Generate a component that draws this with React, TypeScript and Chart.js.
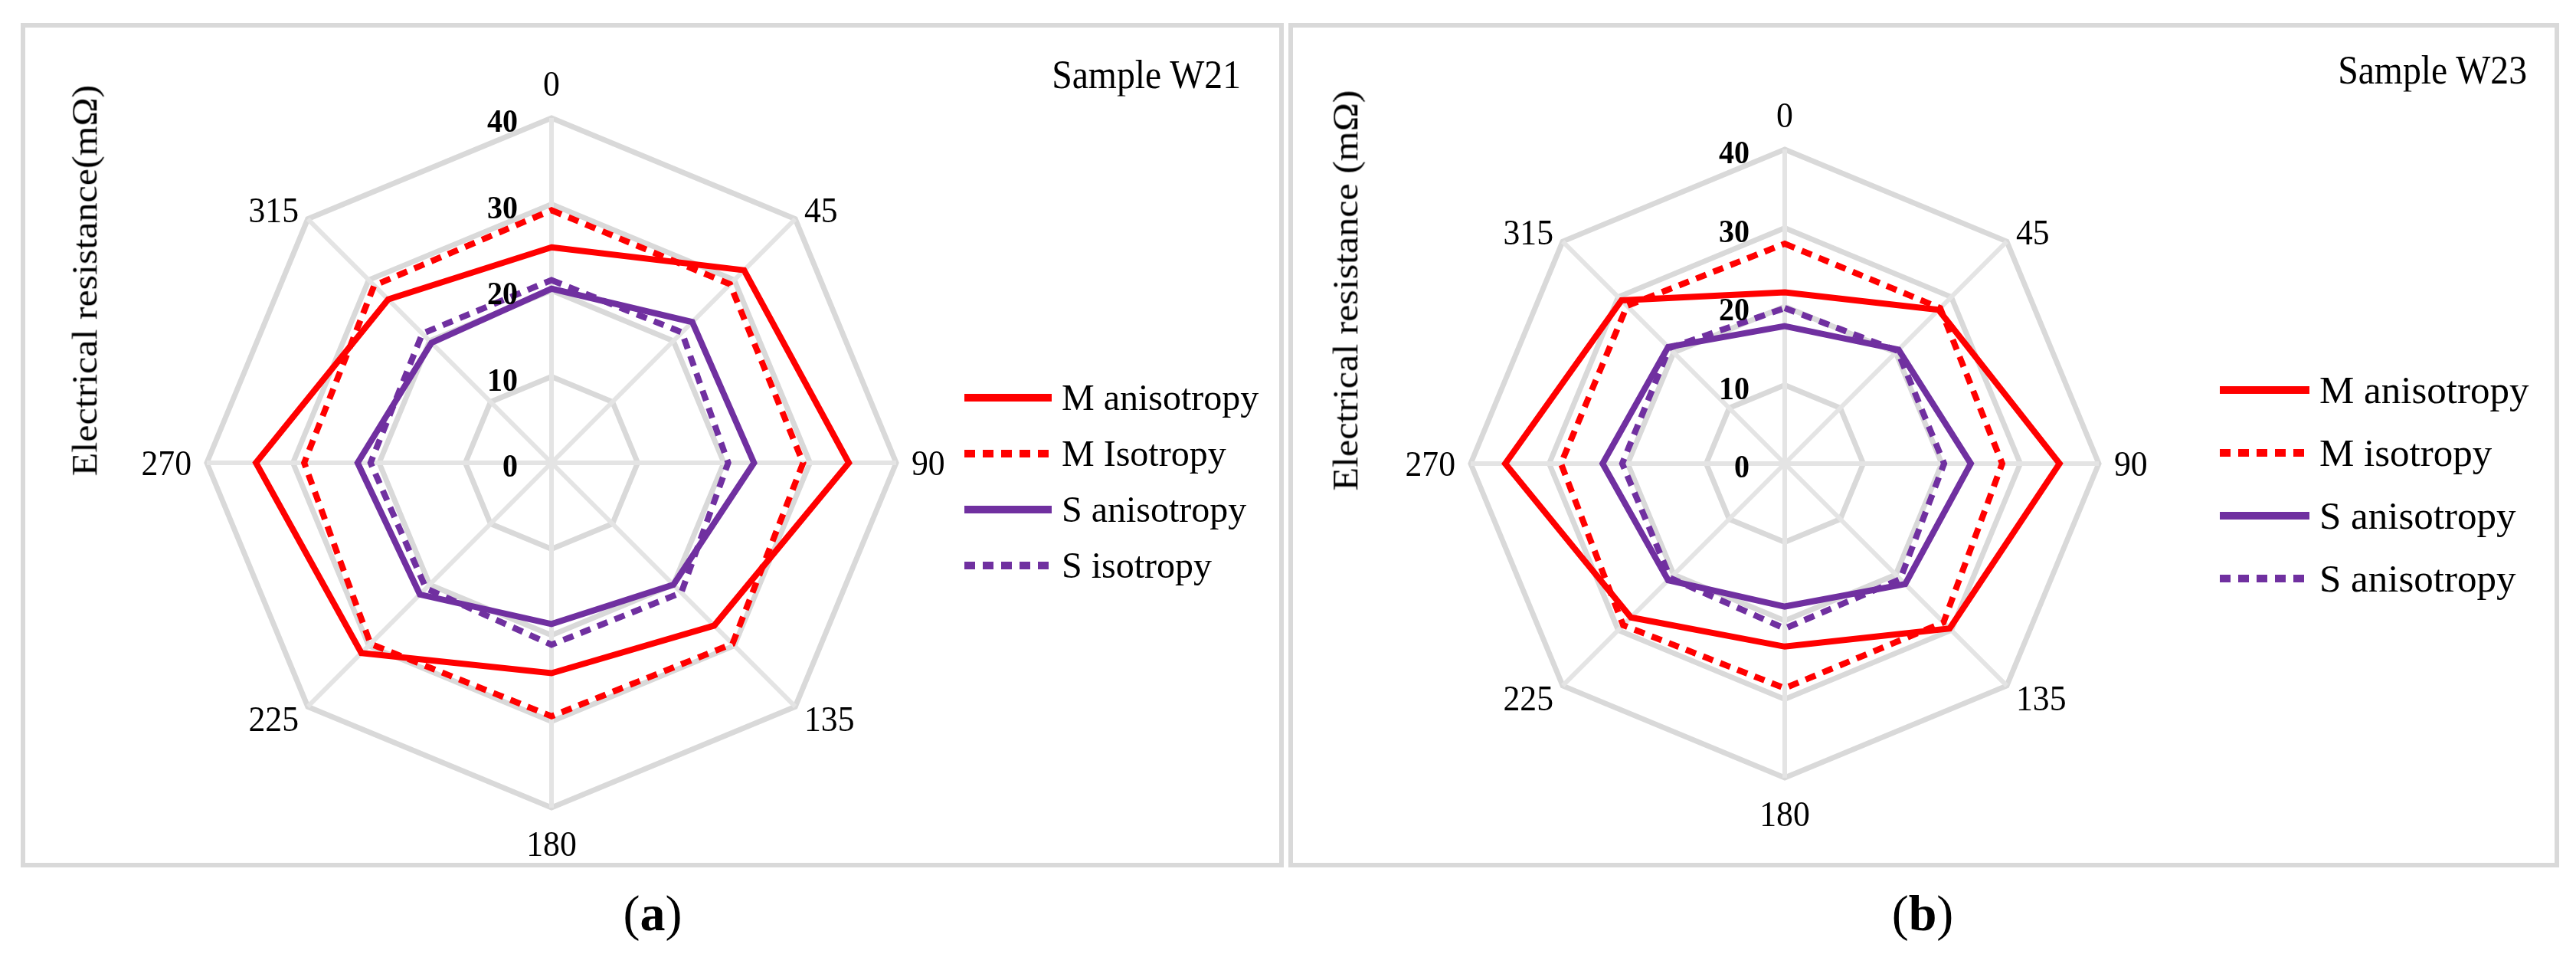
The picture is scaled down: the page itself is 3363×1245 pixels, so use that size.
import React, { useEffect, useRef, useState } from "react";
import { Chart, registerables } from "chart.js";

Chart.register(...registerables);

// ---------- data ----------
const angleLabels = ["0", "45", "90", "135", "180", "225", "270", "315"];
const tickValues = [0, 10, 20, 30, 40];

const w21MAnisotropy = [25.0, 31.6, 34.5, 26.7, 24.4, 31.2, 34.3, 26.8];
const w21MIsotropy = [29.3, 29.3, 29.2, 29.7, 29.4, 29.7, 28.7, 29.1];
const w21SAnisotropy = [20.2, 23.1, 23.5, 20.0, 18.7, 21.6, 22.5, 19.7];
const w21SIsotropy = [21.2, 21.4, 20.5, 21.3, 21.1, 20.6, 21.0, 21.2];

const w23MAnisotropy = [21.8, 27.7, 35.0, 29.7, 23.3, 27.7, 35.6, 29.4];
const w23MIsotropy = [28.0, 28.0, 27.7, 28.6, 28.6, 29.1, 28.5, 28.4];
const w23SAnisotropy = [17.5, 20.5, 23.7, 21.7, 18.2, 21.0, 23.2, 21.0];
const w23SIsotropy = [19.8, 20.3, 20.3, 20.8, 21.0, 20.6, 20.7, 20.8];

const w21Legend = ["M anisotropy", "M Isotropy", "S anisotropy", "S isotropy"];
const w23Legend = ["M anisotropy", "M isotropy", "S anisotropy", "S anisotropy"];

// ---------- styling ----------
const FONT = "'Liberation Serif', 'Times New Roman', serif";
const RED = "#ff0000";
const PURPLE = "#7030a0";
const RING = "#d9d9d9";
const SPOKE = "#e4e4e4";
const DASH = [14, 10];

type TextSpec = {
  text: React.ReactNode;
  x: number;
  y: number;
  align: "left" | "right" | "center";
  size: number;
  bold?: boolean;
  sx?: number;
  rotate?: boolean;
  baselineTop?: boolean;
};

// canvas part: panel border + legend line samples
const decorPlugin = {
  id: "decor",
  beforeDraw(chart: any, _a: any, o: any) {
    const ctx: CanvasRenderingContext2D = chart.ctx;
    ctx.save();
    ctx.strokeStyle = RING;
    ctx.lineWidth = 6;
    const b = o.border;
    ctx.strokeRect(b.x1, b.y1, b.x2 - b.x1, b.y2 - b.y1);
    ctx.restore();
  },
  afterDraw(chart: any, _a: any, o: any) {
    const ctx: CanvasRenderingContext2D = chart.ctx;
    const L = o.legend;
    chart.data.datasets.forEach((ds: any, i: number) => {
      const y = L.y0 + i * L.spacing;
      ctx.save();
      ctx.strokeStyle = ds.borderColor;
      ctx.lineWidth = 10;
      ctx.lineCap = "butt";
      ctx.setLineDash(ds.borderDash || []);
      ctx.beginPath();
      ctx.moveTo(L.x, y);
      ctx.lineTo(L.x + L.lineLen, y);
      ctx.stroke();
      ctx.restore();
    });
  },
};

function makeDatasets(names: string[], a: number[], b: number[], c: number[], d: number[]) {
  const base = { fill: false, pointRadius: 0, borderWidth: 8, tension: 0, borderJoinStyle: "miter", borderCapStyle: "butt", backgroundColor: "rgba(0,0,0,0)" };
  return [
    { ...base, label: names[0], data: a, borderColor: RED },
    { ...base, label: names[1], data: b, borderColor: RED, borderDash: DASH },
    { ...base, label: names[2], data: c, borderColor: PURPLE },
    { ...base, label: names[3], data: d, borderColor: PURPLE, borderDash: DASH },
  ];
}

function makeConfig(datasets: any[], padding: any, decor: any): any {
  return {
    type: "radar",
    data: { labels: angleLabels, datasets },
    plugins: [decorPlugin],
    options: {
      responsive: false,
      animation: false,
      devicePixelRatio: 1,
      layout: { padding },
      plugins: {
        legend: { display: false },
        title: { display: false },
        tooltip: { enabled: false },
        decor,
      },
      scales: {
        r: {
          min: 0,
          max: 40,
          ticks: { display: false, stepSize: 10 },
          pointLabels: { display: false },
          grid: { color: RING, lineWidth: 7, circular: false },
          angleLines: { color: SPOKE, lineWidth: 6 },
        },
      },
    },
  };
}

function collectTexts(chart: any, offsetX: number, cfg: any): TextSpec[] {
  const scale = chart.scales.r;
  const R = scale.drawingArea;
  const out: TextSpec[] = [];
  tickValues.forEach((v) => {
    const d = scale.getDistanceFromCenterForValue(v);
    out.push({ text: String(v), x: offsetX + scale.xCenter - cfg.tickGap, y: scale.yCenter - d + 3, align: "right", size: cfg.tickSize, bold: true, sx: cfg.squeeze });
  });
  chart.data.labels.forEach((lab: string, i: number) => {
    const unit = scale.getPointPosition(i, 1);
    const dx = unit.x - scale.xCenter;
    const dy = unit.y - scale.yCenter;
    let p;
    let align: "left" | "right" | "center" = "center";
    let extra = 0;
    if (Math.abs(dx) < 0.1) {
      p = scale.getPointPosition(i, R + (dy < 0 ? 45 : 47));
    } else if (Math.abs(dy) < 0.1) {
      p = scale.getPointPosition(i, R + 20);
      align = dx > 0 ? "left" : "right";
    } else {
      p = scale.getPointPosition(i, R + 17);
      align = dx > 0 ? "left" : "right";
      extra = dy > 0 ? 4 : 0;
    }
    out.push({ text: lab, x: offsetX + p.x, y: p.y + extra, align, size: cfg.labelSize, sx: cfg.squeeze });
  });
  const t = cfg.title;
  out.push({ text: t.text, x: offsetX + t.x, y: t.y, align: "right", size: t.size, sx: 0.9, baselineTop: true });
  const L = cfg.legend;
  chart.data.datasets.forEach((ds: any, i: number) => {
    out.push({ text: ds.label, x: offsetX + L.x + L.lineLen + L.gap, y: L.y0 + i * L.spacing, align: "left", size: L.size });
  });
  const A = cfg.axisTitle;
  out.push({ text: A.text, x: offsetX + A.x, y: A.y, align: "center", size: A.size, rotate: true });
  const C = cfg.caption;
  out.push({
    text: (
      <>
        (<b>{C.letter}</b>)
      </>
    ),
    x: offsetX + C.x,
    y: C.y,
    align: "center",
    size: C.size,
  });
  return out;
}

function TextItem({ s }: { s: TextSpec }) {
  const sx = s.sx ?? 1;
  const tx = s.align === "right" ? "-100%" : s.align === "center" ? "-50%" : "0";
  const origin = s.align === "right" ? "right center" : s.align === "center" ? "center center" : "left center";
  let transform = `translate(${tx}, -50%) scaleX(${sx})`;
  let top = s.y;
  if (s.baselineTop) {
    top = s.y - 0.3375 * s.size;
  }
  if (s.rotate) transform = `translate(-50%, -50%) rotate(-90deg) scaleY(0.92)`;
  return (
    <div
      style={{
        position: "absolute",
        left: s.x,
        top,
        fontFamily: FONT,
        fontSize: s.size,
        lineHeight: 1,
        fontWeight: s.bold ? "bold" : "normal",
        whiteSpace: "nowrap",
        color: "#000",
        transform,
        transformOrigin: s.rotate ? "center center" : origin,
      }}
    >
      {s.text}
    </div>
  );
}

const leftCfg = {
  tickGap: 44,
  tickSize: 43,
  labelSize: 47,
  squeeze: 0.93,
  border: { x1: 30, y1: 33, x2: 1673, y2: 1129 },
  title: { text: "Sample W21", x: 1620, y: 115, size: 53 },
  legend: { x: 1259, y0: 519, spacing: 73, lineLen: 114, gap: 13, size: 48 },
  axisTitle: { text: "Electrical resistance(mΩ)", x: 111, y: 366, size: 50 },
  caption: { letter: "a", x: 852, y: 1192, size: 66 },
};

const rightCfg = {
  tickGap: 46,
  tickSize: 43,
  labelSize: 47,
  squeeze: 0.93,
  border: { x1: 5, y1: 33, x2: 1658, y2: 1129 },
  title: { text: "Sample W23", x: 1619, y: 109, size: 53 },
  legend: { x: 1218, y0: 509, spacing: 82, lineLen: 117, gap: 13, size: 51 },
  axisTitle: { text: "Electrical resistance (mΩ)", x: 77, y: 379, size: 50 },
  caption: { letter: "b", x: 830, y: 1192, size: 66 },
};

export default function App() {
  const leftRef = useRef<HTMLCanvasElement | null>(null);
  const rightRef = useRef<HTMLCanvasElement | null>(null);
  const [texts, setTexts] = useState<TextSpec[]>([]);

  useEffect(() => {
    const left = new Chart(
      leftRef.current as HTMLCanvasElement,
      makeConfig(
        makeDatasets(w21Legend, w21MAnisotropy, w21MIsotropy, w21SAnisotropy, w21SIsotropy),
        { left: 270, right: 510, top: 154, bottom: 191 },
        leftCfg
      )
    );
    const right = new Chart(
      rightRef.current as HTMLCanvasElement,
      makeConfig(
        makeDatasets(w23Legend, w23MAnisotropy, w23MIsotropy, w23SAnisotropy, w23SIsotropy),
        { left: 240, right: 623, top: 195, bottom: 230 },
        rightCfg
      )
    );
    setTexts([...collectTexts(left, 0, leftCfg), ...collectTexts(right, 1680, rightCfg)]);
    return () => {
      left.destroy();
      right.destroy();
    };
  }, []);

  return (
    <div style={{ position: "fixed", left: 0, top: 0, width: 3363, height: 1245, background: "#fff", overflow: "hidden" }}>
      <canvas ref={leftRef} width={1680} height={1245} style={{ position: "absolute", left: 0, top: 0, width: 1680, height: 1245 }} />
      <canvas ref={rightRef} width={1683} height={1245} style={{ position: "absolute", left: 1680, top: 0, width: 1683, height: 1245 }} />
      {texts.map((s, i) => (
        <TextItem key={i} s={s} />
      ))}
    </div>
  );
}
